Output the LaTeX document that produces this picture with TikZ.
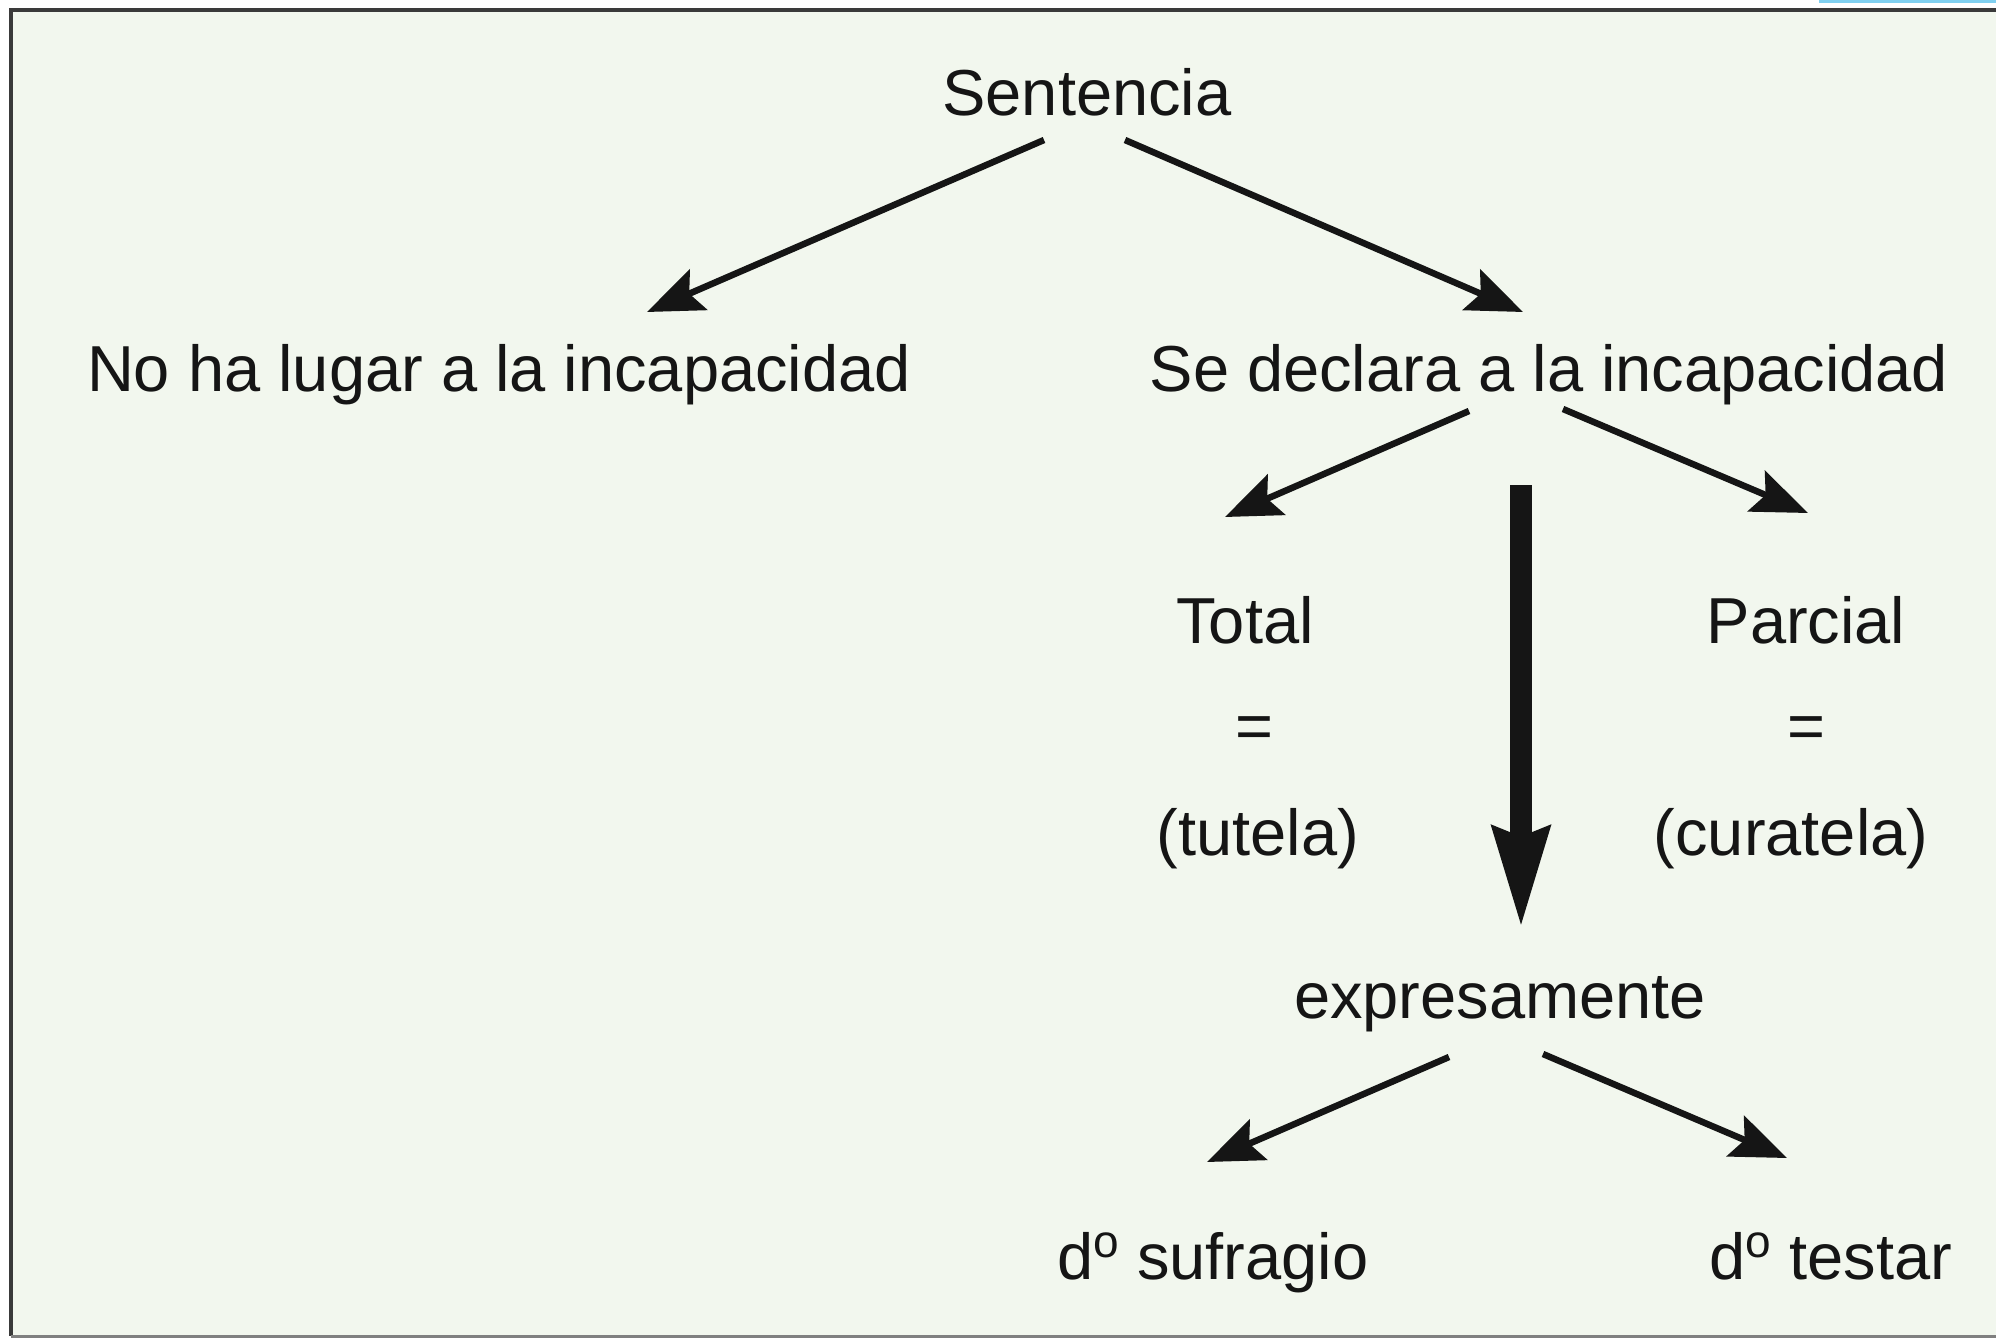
\documentclass[tikz,border=0pt]{standalone}
\usepackage{fontspec}
\setmainfont{Liberation Sans}
\usetikzlibrary{arrows.meta}
\definecolor{bg}{HTML}{F2F7EE}
\definecolor{ink}{HTML}{151515}
\definecolor{frame}{HTML}{3A3A3A}
\definecolor{strip}{HTML}{80D0F0}
\newcommand{\dord}{d\raisebox{22pt}{\fontsize{46}{46}\selectfont o}}
\begin{document}
\begin{tikzpicture}[x=1pt,y=-1pt,
  lbl/.style={font=\fontsize{65}{70}\selectfont, text=ink, inner sep=0pt, anchor=base},
  thinarrow/.style={line width=6.5pt, draw=ink, -{Stealth[length=56pt,width=44pt,inset=10pt]}},
  thickarrow/.style={line width=22pt, draw=ink, -{Stealth[length=100pt,width=54pt,inset=8pt]}}]
\useasboundingbox (0,0) rectangle (1996,1338);
\fill[white] (0,0) rectangle (1996,1338);
\fill[bg] (11,10) rectangle (1996,1336);
\fill[strip] (1819,0) rectangle (1996,3);
\draw[line width=4pt, frame] (1996,10) -- (11,10) -- (11,1336);
\draw[line width=3pt, gray] (11,1336.5) -- (1996,1336.5);

\node[lbl] (sent) at (1087,115) {Sentencia};
\node[lbl] (nolugar) at (499,391) {No ha lugar a la incapacidad};
\node[lbl] (declara) at (1549,391) {Se declara a la incapacidad};
\node[lbl] (total) at (1245,643) {Total};
\node[lbl] (eq1) at (1254,748) {=};
\node[lbl] (tutela) at (1258,855) {(tutela)};
\node[lbl] (parcial) at (1806,643) {Parcial};
\node[lbl] (eq2) at (1806,748) {=};
\node[lbl] (curatela) at (1791,855) {(curatela)};
\node[lbl] (expr) at (1500,1018) {expresamente};
\node[lbl] (sufragio) at (1213,1279) {\dord{} sufragio};
\node[lbl] (testar) at (1831,1279) {\dord{} testar};

\coordinate (a1s) at (1044,140); \coordinate (a1e) at (647,312);
\coordinate (a2s) at (1125,140); \coordinate (a2e) at (1523,312);
\coordinate (a3s) at (1469,411); \coordinate (a3e) at (1225,517);
\coordinate (a4s) at (1563,409); \coordinate (a4e) at (1808,513);
\coordinate (a5s) at (1521,485); \coordinate (a5e) at (1521,929);
\coordinate (a6s) at (1449,1057); \coordinate (a6e) at (1207,1162);
\coordinate (a7s) at (1543,1054); \coordinate (a7e) at (1787,1158);

\draw[thinarrow] (a1s) -- (a1e);
\draw[thinarrow] (a2s) -- (a2e);
\draw[thinarrow] (a3s) -- (a3e);
\draw[thinarrow] (a4s) -- (a4e);
\draw[thickarrow] (a5s) -- (a5e);
\draw[thinarrow] (a6s) -- (a6e);
\draw[thinarrow] (a7s) -- (a7e);
\end{tikzpicture}
\end{document}
